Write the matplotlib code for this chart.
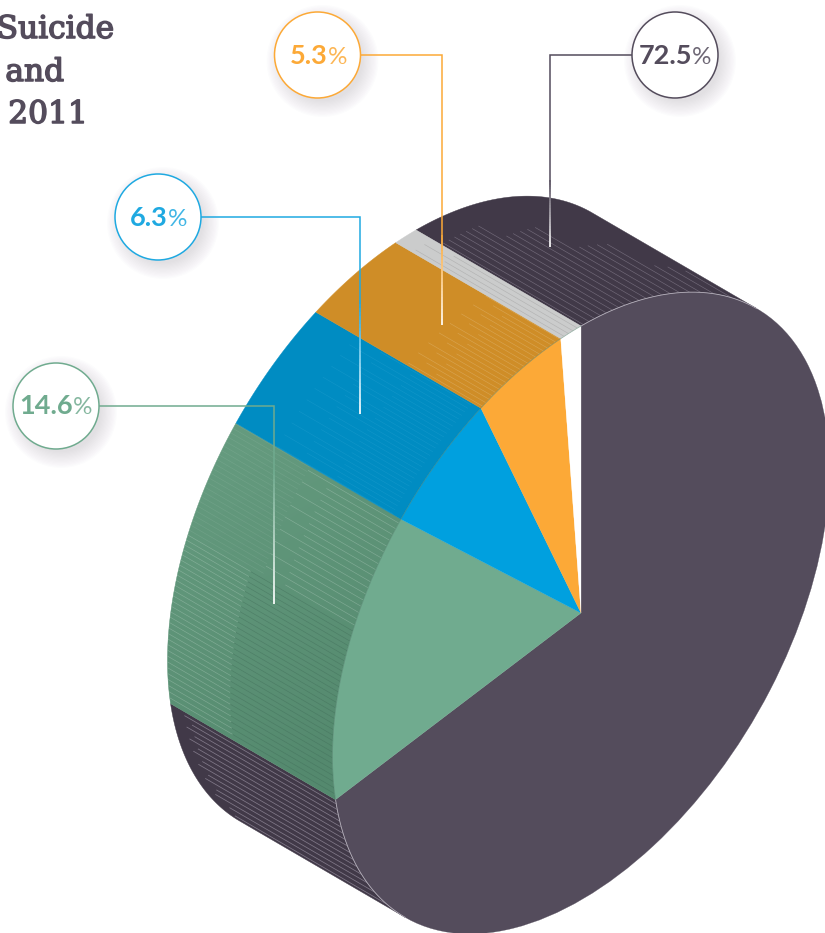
import numpy as np
import matplotlib
matplotlib.use('Agg')
import matplotlib.pyplot as plt
import matplotlib.patheffects as pe
from matplotlib.collections import LineCollection
from matplotlib.colors import to_rgb
from matplotlib.patches import Circle, Polygon, Wedge
from matplotlib.transforms import Affine2D

# Datos
values = [72.5, 14.6, 6.3, 5.3, 1.3]
value_labels = ['72.5', '14.6', '6.3', '5.3', None]
top_colors = ['#544C5C', '#70AB8F', '#00A0DF', '#FCA937', '#FFFFFF']
side_colors = ['#413948', '#649A7E', '#008CC2', '#CF8D27', '#CBCCCC']
line_colors = ['#544C5C', '#70AB8F', '#1FA9E1', '#FCA937']
title_lines = ['Suicide', 'and', '2011']

# Geometría isométrica (en píxeles de la imagen)
C = np.array([581.0, 613.0])
A = np.array([0.0, -287.0])
B = np.array([248.5, -143.5])
EXTR = np.array([-165.0, -96.0])
SIDE_START, SIDE_END = 225.0, 405.0  # parte visible del cilindro

fig = plt.figure(figsize=(8.25, 9.33), dpi=100)
ax = fig.add_axes([0, 0, 1, 1])
ax.set_xlim(0, 825)
ax.set_ylim(933, 0)
ax.axis('off')

face_tf = Affine2D(np.array([[A[0], B[0], C[0]],
                             [A[1], B[1], C[1]],
                             [0, 0, 1]])) + ax.transData


def arc_points(t0, t1, n=200):
    t = np.radians(np.linspace(t0, t1, n))
    return C + np.outer(np.cos(t), A) + np.outer(np.sin(t), B)


def visible_ranges(t0, t1):
    """Tramos del arco [t0, t1] que se ven en la cara lateral."""
    out = []
    for shift in (0, 360):
        lo = max(t0 + shift, SIDE_START)
        hi = min(t1 + shift, SIDE_END)
        if hi > lo:
            out.append((lo, hi))
    return out


def side_hatch(t0, t1, color, alpha, spans, spacing=4.6, lw=0.45):
    """Líneas finas paralelas a la extrusión; spans = tramos (inicio, fin) en fracción."""
    pts = arc_points(t0, t1, 800)
    s = (pts[:, 0] * 0.5 - pts[:, 1] * 0.866) / spacing
    idx = np.where(np.floor(s[1:]) != np.floor(s[:-1]))[0]
    segs = []
    for k, i in enumerate(idx):
        f0, f1 = spans[k % len(spans)]
        segs.append([pts[i] + EXTR * f0, pts[i] + EXTR * f1])
    if segs:
        ax.add_collection(LineCollection(segs, colors=color, linewidths=lw,
                                         alpha=alpha, zorder=2))


# Ángulos de cada porción
edges = np.concatenate([[0], np.cumsum(values)]) * 3.6

hatch_styles = {
    2: ('#3FAFDB', 0.25, [(0.05, 0.75), (0.05, 0.4), (0.05, 0.6)]),
    3: ('#E6C48A', 0.4, [(0.0, 0.45), (0.0, 0.3), (0.0, 0.38)]),
    4: ('#A8A8A8', 0.7, [(0.0, 0.9), (0.0, 0.75)]),
}
dark_back_spans = [(0.0, 0.85)] * 7 + [(0.0, 0.72)] * 5 + [(0.0, 0.5)] * 4 + [(0.0, 0.28)] * 4

# Caras laterales
for i, color in enumerate(side_colors):
    for lo, hi in visible_ranges(edges[i], edges[i + 1]):
        front = arc_points(lo, hi)
        poly = np.vstack([front, (front + EXTR)[::-1]])
        patch = ax.add_patch(Polygon(poly, closed=True, facecolor=color, edgecolor=color,
                                     linewidth=0.3, zorder=1))
        if i == 1:
            # degradado hacia abajo en el lateral verde
            yy, xx = np.mgrid[420:810, 160:410]
            g = np.clip(((xx - 200) * 0.5 + (yy - 480) * 0.85) / 300, 0, 1)
            rgba = np.zeros(g.shape + (4,))
            rgba[..., :3] = to_rgb('#4F8469')
            rgba[..., 3] = g * 0.75
            im = ax.imshow(rgba, extent=(160, 410, 810, 420), zorder=1.5,
                           interpolation='bilinear', aspect='auto')
            im.set_clip_path(patch)
        elif i == 0:
            if lo >= 360:
                side_hatch(lo, hi, '#8C8494', 0.65, dark_back_spans, spacing=5.4)
            else:
                side_hatch(lo, hi, '#8C8494', 0.85, [(0.0, 0.92), (0.0, 0.88)], spacing=4.4, lw=0.55)
        else:
            hc, ha, hs = hatch_styles[i]
            side_hatch(lo, hi, hc, ha, hs)

ax.set_xlim(0, 825)
ax.set_ylim(933, 0)

# Rayas del lateral verde: oscuras delante, claras detrás
green_lo, green_hi = visible_ranges(edges[1], edges[2])[0]
mid = green_lo + (green_hi - green_lo) * 0.62
side_hatch(green_lo, mid, '#3F6B57', 0.5, [(0.0, 0.62)], spacing=5.0)
side_hatch(green_lo, mid, '#B9D3C5', 0.4, [(0.62, 1.0)], spacing=5.0)
side_hatch(mid, green_hi, '#B9D3C5', 0.4, [(0.0, 0.42), (0.0, 0.55)], spacing=6.5)
side_hatch(mid, green_hi, '#B9D3C5', 0.16, [(0.55, 1.0)], spacing=5.0)

# Cara frontal
for i, color in enumerate(top_colors):
    ax.add_patch(Wedge((0, 0), 1, edges[i], edges[i + 1], transform=face_tf,
                       facecolor=color, edgecolor=color, linewidth=0.2, zorder=3))

# Filo claro del borde frontal
for t0, t1 in [(225, 261), (0, 45)]:
    rim = arc_points(t0, t1)
    ax.plot(rim[:, 0], rim[:, 1], color='#B4AFBA', lw=0.6, zorder=4)
rim = arc_points(261, 360)
ax.plot(rim[:, 0], rim[:, 1], color='#4E7D68', lw=0.5, alpha=0.6, zorder=4)

# Etiquetas con círculo y línea guía
callouts = [
    (0, (675, 55), 692, [(632, 55), (550, 55), (550, 180)], (550, 247)),
    (1, (56, 406), 73, [(99, 406), (274, 406), (274, 470)], (274, 604)),
    (2, (158, 217), 168, [(201, 217), (360, 217), (360, 300)], (360, 414)),
    (3, (317.5, 55), 328, [(361, 55), (442, 55), (442, 235)], (442, 325)),
]

for i, center, split_x, solid, end in callouts:
    col = line_colors[i]
    xs, ys = zip(*solid)
    ax.plot(xs, ys, color=col, lw=1.1, solid_joinstyle='miter', solid_capstyle='butt', zorder=6)

    # tramo final que se desvanece hacia blanco
    y_vals = np.linspace(solid[-1][1], end[1], 30)
    segs = [[(end[0], y_vals[k]), (end[0], y_vals[k + 1])] for k in range(29)]
    c0 = np.array(to_rgb(col))
    cols = [c0 + (np.ones(3) - c0) * (k / 28) * 0.95 for k in range(29)]
    ax.add_collection(LineCollection(segs, colors=cols, linewidths=1.3, zorder=6))

    # sombra difusa
    for r in np.linspace(56, 40, 14):
        ax.add_patch(Circle((center[0] + 5, center[1] + 6), r, facecolor='#544C5C',
                            edgecolor='none', alpha=0.011, zorder=5))
    ax.add_patch(Circle(center, 43, facecolor='white', edgecolor=col, linewidth=1.1, zorder=7))
    ax.text(split_x, center[1] + 8.5, value_labels[i], ha='right', va='baseline',
            family='Lato', weight='bold', fontsize=19.5, color=col, zorder=8)
    ax.text(split_x, center[1] + 8.5, '%', ha='left', va='baseline',
            family='Lato', weight='normal', fontsize=17.5, color=col, alpha=0.85, zorder=8)

# Título (recortado por el borde izquierdo, como en la imagen)
title_color = '#544C5C'
for txt, x_right, y_base in zip(title_lines, [114, 64, 88], [38, 81, 123]):
    t = ax.text(x_right, y_base, txt, ha='right', va='baseline', family='DejaVu Serif',
                fontsize=22.5, color=title_color, zorder=8)
    t.set_path_effects([pe.withStroke(linewidth=1.1, foreground=title_color)])

fig.savefig('out.png', dpi=100)
plt.close(fig)
